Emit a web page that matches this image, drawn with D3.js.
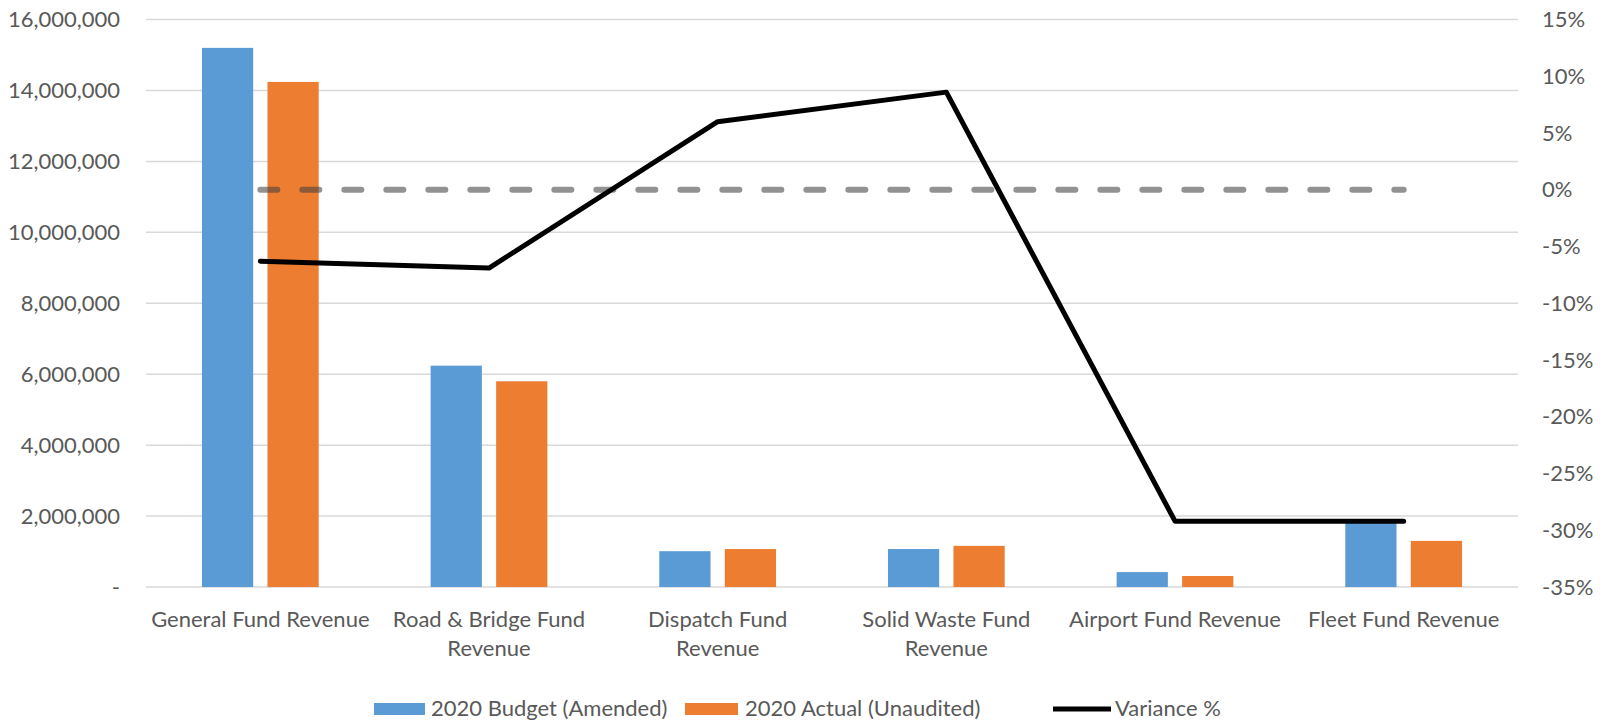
<!DOCTYPE html>
<html>
<head>
<meta charset="utf-8">
<script src="https://cdn.jsdelivr.net/npm/d3@7"></script>
<style>
  body { margin: 0; background: #fff; }
  text { font-family: Lato, "Open Sans", sans-serif; fill: #595959; }
</style>
</head>
<body>
<svg width="1606" height="725"></svg>
<script>
var categories = [
  ['General Fund Revenue'],
  ['Road & Bridge Fund', 'Revenue'],
  ['Dispatch Fund', 'Revenue'],
  ['Solid Waste Fund', 'Revenue'],
  ['Airport Fund Revenue'],
  ['Fleet Fund Revenue']
];
var budget = [15200000, 6240000, 1010000, 1070000, 420000, 1840000];
var actual = [14240000, 5800000, 1070000, 1160000, 310000, 1300000];
var variance = [-6.3, -6.9, 6.0, 8.6, -29.2, -29.2];
var zeroLine = [0, 0, 0, 0, 0, 0];
var leftTicks = [0, 2000000, 4000000, 6000000, 8000000, 10000000, 12000000, 14000000, 16000000];
var rightTicks = [-35, -30, -25, -20, -15, -10, -5, 0, 5, 10, 15];

var main = function() {
  var svg = d3.select('svg');
  var pLeft = 146, pRight = 1518, pTop = 19.5, pBottom = 587;
  var fs = '22px';

  var x = d3.scaleBand().domain(d3.range(categories.length)).range([pLeft, pRight]);
  var y = d3.scaleLinear().domain([0, 16000000]).range([pBottom, pTop]);
  var y2 = d3.scaleLinear().domain([-35, 15]).range([pBottom, pTop]);

  var fmt = d3.format(',');

  // gridlines
  svg.append('g')
    .selectAll('line')
    .data(leftTicks)
    .enter()
    .append('line')
    .attr('x1', pLeft).attr('x2', pRight)
    .attr('y1', function(d) { return y(d); })
    .attr('y2', function(d) { return y(d); })
    .attr('stroke', '#d9d9d9')
    .attr('stroke-width', 1.5);

  // left axis
  var yAxis = d3.axisLeft(y).tickValues(leftTicks)
    .tickFormat(function(d) { return d === 0 ? '-' : fmt(d); })
    .tickSize(0).tickPadding(26);
  var gl = svg.append('g').attr('transform', 'translate(' + pLeft + ',0)').call(yAxis);
  gl.select('.domain').remove();
  gl.selectAll('text').style('font-size', fs).style('font-family', null).attr('fill', '#595959');

  // right axis
  var y2Axis = d3.axisRight(y2).tickValues(rightTicks)
    .tickFormat(function(d) { return d + '%'; })
    .tickSize(0).tickPadding(24);
  var gr = svg.append('g').attr('transform', 'translate(' + pRight + ',0)').call(y2Axis);
  gr.select('.domain').remove();
  gr.selectAll('text').style('font-size', fs).attr('fill', '#595959');
  gl.attr('font-family', null); gr.attr('font-family', null);

  // bars
  var bw = x.bandwidth() * 0.224, gap = x.bandwidth() * 0.0625;
  var pad = (x.bandwidth() - 2 * bw - gap) / 2;

  svg.append('g').selectAll('rect')
    .data(budget).enter().append('rect')
    .attr('x', function(d, i) { return x(i) + pad; })
    .attr('y', function(d) { return y(d); })
    .attr('width', bw)
    .attr('height', function(d) { return y(0) - y(d); })
    .attr('fill', '#5b9bd5');

  svg.append('g').selectAll('rect')
    .data(actual).enter().append('rect')
    .attr('x', function(d, i) { return x(i) + pad + bw + gap; })
    .attr('y', function(d) { return y(d); })
    .attr('width', bw)
    .attr('height', function(d) { return y(0) - y(d); })
    .attr('fill', '#ed7d31');

  // lines
  var cx = function(d, i) { return x(i) + x.bandwidth() / 2; };

  svg.append('path')
    .datum(zeroLine)
    .attr('d', d3.line().x(cx).y(function(d) { return y2(d); }))
    .attr('fill', 'none')
    .attr('stroke', '#404040')
    .attr('stroke-opacity', 0.57)
    .attr('stroke-width', 6)
    .attr('stroke-linecap', 'round')
    .attr('stroke-dasharray', '17,25');

  svg.append('path')
    .datum(variance)
    .attr('d', d3.line().x(cx).y(function(d) { return y2(d); }))
    .attr('fill', 'none')
    .attr('stroke', '#000')
    .attr('stroke-width', 5)
    .attr('stroke-linejoin', 'round')
    .attr('stroke-linecap', 'round');

  // category labels
  var cl = svg.append('g').selectAll('text')
    .data(categories).enter().append('text')
    .attr('x', cx)
    .attr('y', 627)
    .attr('text-anchor', 'middle')
    .style('font-size', fs);
  cl.selectAll('tspan')
    .data(function(d) { return d; })
    .enter().append('tspan')
    .attr('x', function() { return d3.select(this.parentNode).attr('x'); })
    .attr('dy', function(d, i) { return i ? 29 : 0; })
    .text(function(d) { return d; });

  // legend
  var lg = svg.append('g').style('font-size', fs);
  lg.append('rect').attr('x', 374).attr('y', 703).attr('width', 51).attr('height', 12).attr('fill', '#5b9bd5');
  lg.append('text').attr('x', 431).attr('y', 716).text('2020 Budget (Amended)');
  lg.append('rect').attr('x', 685).attr('y', 703).attr('width', 53).attr('height', 12).attr('fill', '#ed7d31');
  lg.append('text').attr('x', 745).attr('y', 716).text('2020 Actual (Unaudited)');
  lg.append('line').attr('x1', 1053).attr('x2', 1111).attr('y1', 709).attr('y2', 709)
    .attr('stroke', '#000').attr('stroke-width', 5);
  lg.append('text').attr('x', 1115).attr('y', 716).text('Variance %');
};

main();
</script>
</body>
</html>
